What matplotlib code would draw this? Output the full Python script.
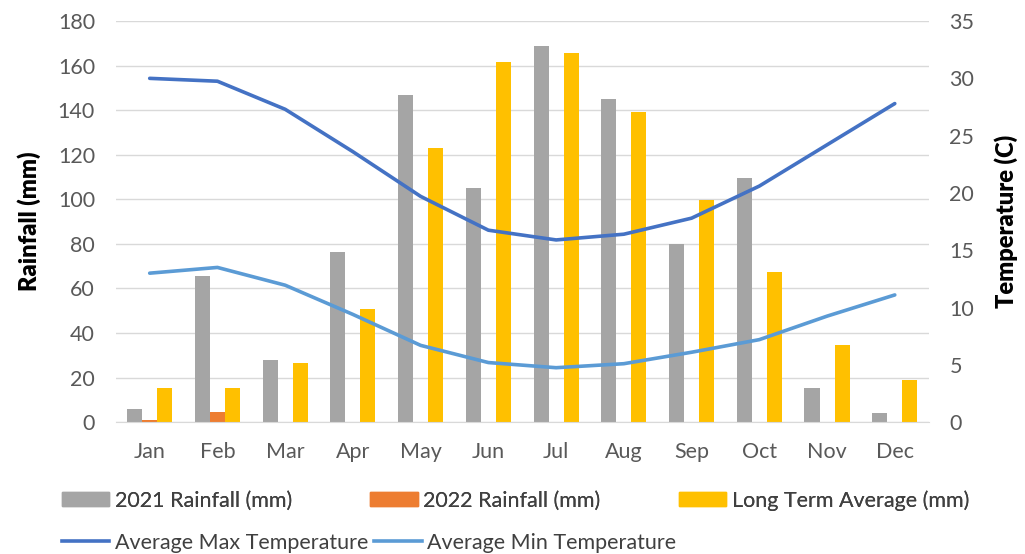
import numpy as np
import matplotlib.pyplot as plt
from matplotlib.patches import Patch
from matplotlib.lines import Line2D

months = ["Jan", "Feb", "Mar", "Apr", "May", "Jun", "Jul", "Aug", "Sep", "Oct", "Nov", "Dec"]
rain_2021 = [5.8, 65.5, 28, 76.5, 147, 105, 169, 145, 80, 109.5, 15.5, 4]
rain_2022 = [1, 4.5, 0, 0, 0, 0, 0, 0, 0, 0, 0, 0]
long_term = [15.5, 15.5, 26.5, 51, 123, 161.5, 165.5, 139, 99.5, 67.5, 34.5, 19]
max_temp = [30.0, 29.75, 27.3, 23.6, 19.7, 16.75, 15.9, 16.4, 17.8, 20.6, 24.2, 27.8]
min_temp = [13.0, 13.5, 11.95, 9.4, 6.7, 5.2, 4.75, 5.1, 6.1, 7.2, 9.25, 11.1]

plt.rcParams['font.family'] = ['Lato', 'DejaVu Sans']

GRAY, ORANGE, YELLOW = "#A5A5A5", "#ED7D31", "#FFC000"
MAXC, MINC = "#4472C4", "#5B9BD5"
TXT = "#595959"
FS = 15.5

fig = plt.figure(figsize=(10.25, 5.54), dpi=100)
ax = fig.add_axes([0.113, 0.238, 0.793, 0.724])
ax2 = ax.twinx()

x = np.arange(len(months))
w = 0.222
ax.bar(x - w, rain_2021, w, color=GRAY, zorder=2)
ax.bar(x, rain_2022, w, color=ORANGE, zorder=2)
ax.bar(x + w, long_term, w, color=YELLOW, zorder=2)

ax2.plot(x, max_temp, color=MAXC, lw=2.6, solid_capstyle='round')
ax2.plot(x, min_temp, color=MINC, lw=2.6, solid_capstyle='round')

ax.set_xlim(-0.5, 11.5)
ax.set_ylim(0, 180)
ax.set_yticks(np.arange(0, 181, 20))
ax2.set_ylim(0, 35)
ax2.set_yticks(np.arange(0, 36, 5))
ax.set_xticks(x)
ax.set_xticklabels(months)

ax.grid(axis='y', color="#D9D9D9", lw=1, zorder=0)
ax.set_axisbelow(True)
for a in (ax, ax2):
    for s in a.spines.values():
        s.set_visible(False)
ax.spines['bottom'].set_visible(True)
ax.spines['bottom'].set_color("#D9D9D9")

ax.tick_params(axis='both', length=0, labelsize=FS, colors=TXT)
ax.tick_params(axis='y', pad=15)
ax.tick_params(axis='x', pad=14)
ax2.tick_params(axis='y', length=0, labelsize=FS, colors=TXT, pad=15)

ax.set_ylabel("Rainfall (mm)", fontsize=17, fontweight='heavy', color='black', labelpad=12)
ax2.set_ylabel("Temperature (C)", fontsize=17, fontweight='heavy', color='black', labelpad=14)

bar_handles = [Patch(color=GRAY), Patch(color=ORANGE), Patch(color=YELLOW)]
bar_labels = ["2021 Rainfall (mm)", "2022 Rainfall (mm)", "Long Term Average (mm)"]
leg1 = fig.legend(bar_handles, bar_labels, loc='center left', bbox_to_anchor=(0.052, 0.097),
                  ncol=3, frameon=False, fontsize=FS, handlelength=2.2, handleheight=0.65,
                  handletextpad=0.25, columnspacing=3.65, borderaxespad=0, labelcolor="#404040")
line_handles = [Line2D([], [], color=MAXC, lw=2.6), Line2D([], [], color=MINC, lw=2.6)]
line_labels = ["Average Max Temperature", "Average Min Temperature"]
fig.legend(line_handles, line_labels, loc='center left', bbox_to_anchor=(0.052, 0.02),
           ncol=2, frameon=False, fontsize=FS, handlelength=2.2,
           handletextpad=0.25, columnspacing=0.3, borderaxespad=0, labelcolor="#404040")
fig.add_artist(leg1)

fig.savefig("out.png", dpi=100)
